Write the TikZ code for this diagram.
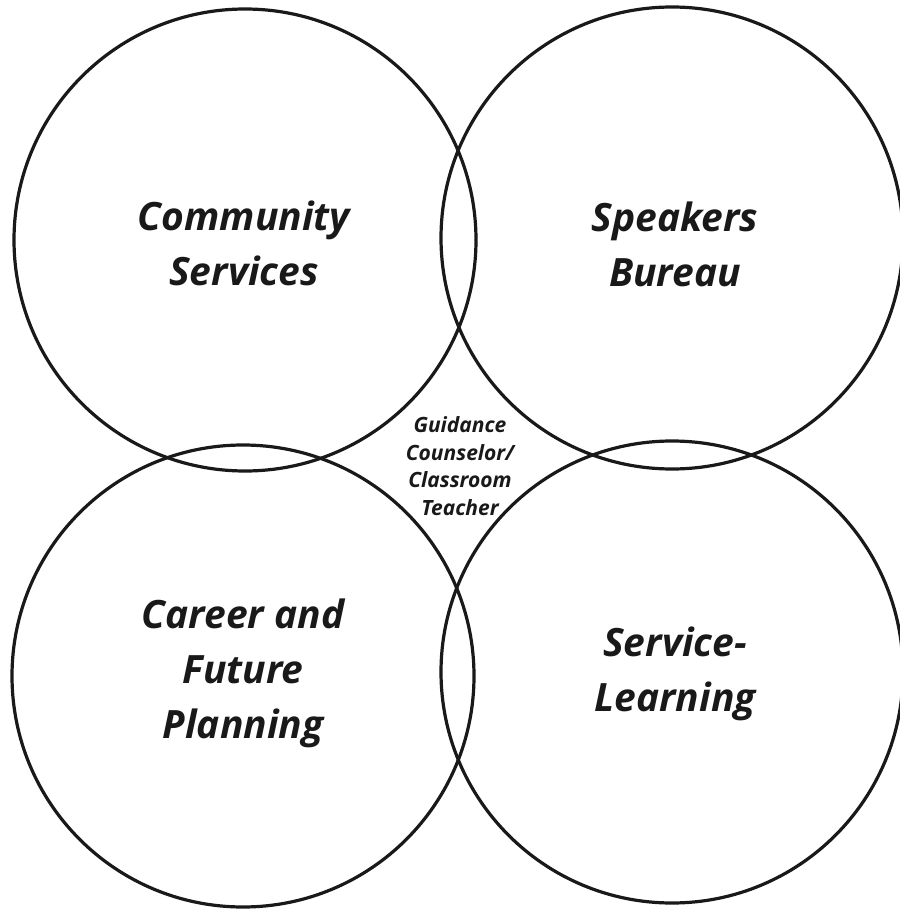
\documentclass[tikz,border=0pt]{standalone}
\usepackage{fontspec}
\setmainfont{Open Sans}
\begin{document}
\begin{tikzpicture}[x=1pt,y=-1pt,
  ring/.style={draw=black!90,line width=3.2pt,circle,minimum size=462pt,inner sep=0pt},
  bigtext/.style={align=center,font=\fontsize{39}{55}\selectfont\bfseries\itshape,text=black!90},
  smalltext/.style={align=center,font=\fontsize{21}{27.5}\selectfont\bfseries\itshape,text=black!90}]
\useasboundingbox (0,0) rectangle (899,909);
\node[ring] (tl) at (245,240) {};
\node[ring] (tr) at (672,238) {};
\node[ring] (bl) at (243,676) {};
\node[ring] (br) at (672,672) {};
\node[bigtext] (t1) at (244,243) {Community\\Services};
\node[bigtext] (t2) at (675,244) {Speakers\\Bureau};
\node[bigtext] (t3) at (243,673) {Career and\\Future\\Planning};
\node[bigtext] (t4) at (675,674) {Service-\\Learning};
\node[smalltext] (c) at (460,466) {Guidance\\Counselor/\\Classroom\\Teacher};
\end{tikzpicture}
\end{document}
